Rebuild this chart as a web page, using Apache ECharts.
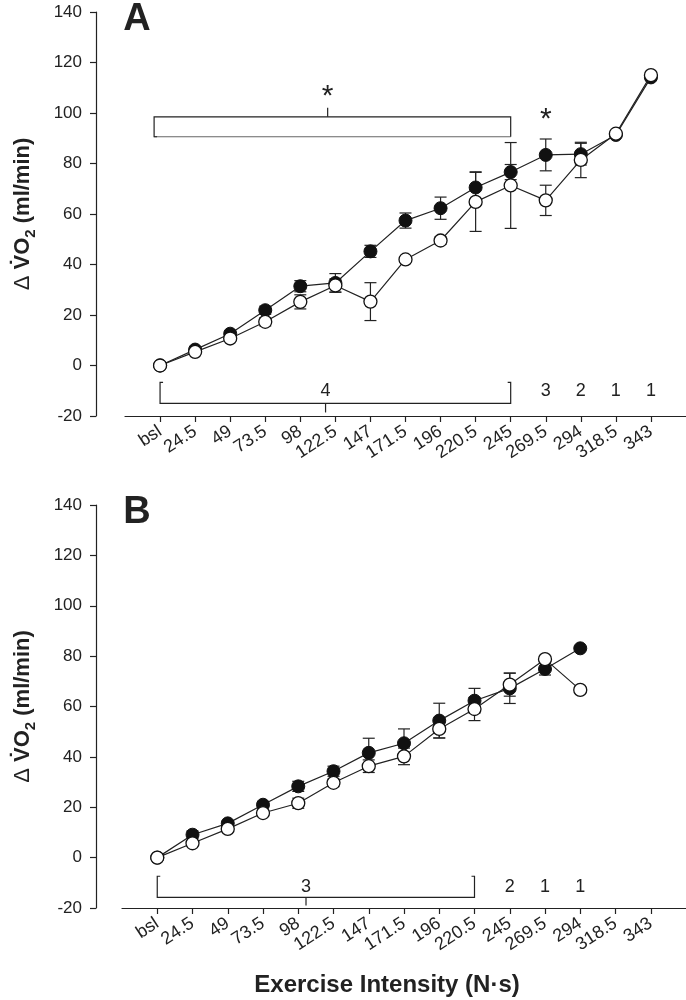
<!DOCTYPE html>
<html>
<head>
<meta charset="utf-8">
<script src="https://cdn.jsdelivr.net/npm/echarts@6/dist/echarts.min.js"></script>
<style>
html,body{margin:0;padding:0;background:#fff;}
#chart{width:686px;height:1000px;}
</style>
</head>
<body>
<div id="chart"></div>
<script>
// ---------- data ----------
const xLabels = ['bsl','24.5','49','73.5','98','122.5','147','171.5','196','220.5','245','269.5','294','318.5','343'];
const yMin = -20, yMax = 140, yStep = 20;

// Panel A
const aFilled    = [0, 6.3, 12.6, 21.9, 31.4, 32.7, 45.2, 57.4, 62.3, 70.5, 76.6, 83.4, 83.7, 91.3, 114.1];
const aFilledErr = [0, 0.8, 1.0, 1.6, 2.2, 3.7, 2.4, 3.0, 4.4, 6.2, 3.0, 6.3, 4.3, 0, 0];
const aOpen      = [0, 5.4, 10.7, 17.3, 25.2, 31.7, 25.3, 42.0, 49.5, 64.8, 71.3, 65.4, 81.4, 91.8, 115.0];
const aOpenErr   = [0, 0.8, 1.0, 1.6, 2.8, 2.6, 7.5, 1.0, 1.5, 11.7, 17.0, 6.0, 7.0, 0, 0];

// Panel B
const bFilled    = [0, 9.1, 13.6, 21.0, 28.3, 34.3, 41.6, 45.4, 54.4, 62.3, 67.2, 74.9, 83.1];
const bFilledErr = [0, 1.5, 1.0, 1.2, 2.0, 2.0, 5.8, 5.7, 6.9, 4.9, 6.0, 2.4, 0];
const bOpen      = [0, 5.7, 11.4, 17.7, 21.6, 29.7, 36.3, 40.2, 51.1, 59.0, 68.7, 78.8, 66.6];
const bOpenErr   = [0, 0.8, 0.8, 0.8, 2.0, 1.5, 2.5, 3.3, 3.6, 4.6, 4.6, 0.8, 0];

// Annotations (category index positions, y values)
const aNLabels = ['4', '3', '2', '1', '1'];
const aNPos    = [5.72, 12, 13, 14, 15];
const aNY      = -10;
const aBracket = [1, 11, -6.7, -15.0];        // from, to, top, bottom
const aBracketTick = [5.72, -15.0, -18.6];
const aRect    = [0.83, 11, 90.6, 98.5];      // from, to, bottom, top
const aRectTick = [5.78, 98.5, 102.1];
const aStars   = [[5.78, 106.5], [12, 97.5]];

const bNLabels = ['3', '2', '1', '1'];
const bNPos    = [5.22, 11, 12, 13];
const bNY      = -11.5;
const bBracket = [1, 10, -7.4, -15.8];
const bBracketTick = [5.22, -15.8, -19.0];

// ---------- helpers ----------
const FONT = 'Liberation Sans, Arial, Helvetica, sans-serif';
const INK = '#222';
const catData = [''].concat(xLabels).concat(['']);
const nCat = catData.length;

function toPts(vals) { return vals.map((v, i) => [i + 1, v]); }
function toErr(vals, errs) { return vals.map((v, i) => [i + 1, v, errs[i]]); }

function P(api, x, y) {
  const lo = Math.floor(x);
  const p0 = api.coord([lo, y]);
  const p1 = api.coord([lo + 1, y]);
  return [p0[0] + (x - lo) * (p1[0] - p0[0]), p0[1]];
}

function errRender(params, api) {
  const x = api.value(0), v = api.value(1), e = api.value(2);
  if (!e) return null;
  const t = api.coord([x, v + e]), b = api.coord([x, v - e]);
  const w = 6;
  const st = { stroke: INK, lineWidth: 1.2, fill: null };
  return { type: 'group', children: [
    { type: 'line', shape: { x1: t[0], y1: t[1], x2: b[0], y2: b[1] }, style: st },
    { type: 'line', shape: { x1: t[0] - w, y1: t[1], x2: t[0] + w, y2: t[1] }, style: st },
    { type: 'line', shape: { x1: b[0] - w, y1: b[1], x2: b[0] + w, y2: b[1] }, style: st }
  ]};
}

function annotRender(cfg) {
  return function (params, api) {
    const ch = [];
    const poly = (pts, color) => ch.push({ type: 'polyline', shape: { points: pts },
      style: { stroke: color || INK, lineWidth: 1.2, fill: null } });
    const txt = (s, p, size) => ch.push({ type: 'text', x: p[0], y: p[1],
      style: { text: s, align: 'center', verticalAlign: 'middle', fontSize: size, fontFamily: FONT, fill: INK } });
    const br = cfg.bracket;
    const a = P(api, br[0], br[2]), b = P(api, br[0], br[3]), c = P(api, br[1], br[3]), d = P(api, br[1], br[2]);
    poly([[a[0] + 3, a[1]], a, b, c, d, [d[0] - 3, d[1]]]);
    const bt = cfg.bracketTick;
    poly([P(api, bt[0], bt[1]), P(api, bt[0], bt[2])]);
    cfg.nPos.forEach((x, i) => txt(cfg.nLabels[i], P(api, x, cfg.nY), 18));
    if (cfg.rect) {
      const r = cfg.rect;
      const tl = P(api, r[0], r[3]), tr = P(api, r[1], r[3]), bl = P(api, r[0], r[2]), brr = P(api, r[1], r[2]);
      poly([bl, brr], '#666');
      poly([[bl[0] + 3, bl[1]], bl, tl, tr, brr]);
      const rt = cfg.rectTick;
      poly([P(api, rt[0], rt[1]), P(api, rt[0], rt[2])]);
      cfg.stars.forEach(s => txt('*', P(api, s[0], s[1]), 30));
    }
    return { type: 'group', children: ch };
  };
}

function xAxisCfg(gi) {
  return {
    type: 'category', gridIndex: gi, data: catData, boundaryGap: false,
    axisLine: { show: true, onZero: false, lineStyle: { color: INK, width: 1.2 } },
    axisTick: { show: true, length: 6, interval: (i) => i > 0 && i < nCat - 1, lineStyle: { color: INK, width: 1.2 } },
    axisLabel: { interval: 0, rotate: 33, fontSize: 18, color: INK, fontFamily: FONT, margin: 14 },
    splitLine: { show: false }
  };
}
function yAxisCfg(gi, off) {
  return {
    type: 'value', gridIndex: gi, min: yMin, max: yMax, interval: yStep, offset: off,
    axisLine: { show: true, lineStyle: { color: INK, width: 1.2 } },
    axisTick: { show: true, length: 6, lineStyle: { color: INK, width: 1.2 } },
    axisLabel: { fontSize: 17, color: INK, fontFamily: FONT, margin: 14 },
    splitLine: { show: false },
    name: '{d|\u0394 }{n|V\u0307O}{s|2}{n| (ml/min)}',
    nameLocation: 'middle', nameRotate: 90, nameGap: 58,
    nameTextStyle: { rich: {
      d: { fontSize: 22, fontWeight: 'normal', color: INK, fontFamily: FONT, lineHeight: 30 },
      n: { fontSize: 22, fontWeight: 'bold', color: INK, fontFamily: FONT, lineHeight: 30 },
      s: { fontSize: 15, fontWeight: 'bold', color: INK, fontFamily: FONT, lineHeight: 16, verticalAlign: 'bottom' }
    } }
  };
}
function lineSeries(gi, data, filled) {
  return {
    type: 'line', xAxisIndex: gi, yAxisIndex: gi, data: data,
    symbol: 'circle', symbolSize: 13, z: filled ? 3 : 4,
    lineStyle: { color: INK, width: 1.2 },
    itemStyle: filled ? { color: '#111', borderColor: '#111', borderWidth: 1 }
                      : { color: '#fff', borderColor: '#111', borderWidth: 1.3 },
    emphasis: { disabled: true }, animation: false
  };
}
function errSeries(gi, data) {
  return { type: 'custom', xAxisIndex: gi, yAxisIndex: gi, data: data, renderItem: errRender, z: 2, animation: false, silent: true };
}

const chart = echarts.init(document.getElementById('chart'), null, { renderer: 'canvas' });
chart.setOption({
  animation: false,
  backgroundColor: '#fff',
  grid: [
    { left: 125, right: 0, top: 12, height: 404, outerBoundsMode: 'none', containLabel: false },
    { left: 122, right: 0, top: 505, height: 403, outerBoundsMode: 'none', containLabel: false }
  ],
  xAxis: [xAxisCfg(0), xAxisCfg(1)],
  yAxis: [yAxisCfg(0, 29), yAxisCfg(1, 26)],
  graphic: [
    { type: 'text', x: 137, y: 20, style: { text: 'A', align: 'center', verticalAlign: 'middle', fontSize: 38, fontWeight: 'bold', fontFamily: FONT, fill: INK } },
    { type: 'text', x: 137, y: 513, style: { text: 'B', align: 'center', verticalAlign: 'middle', fontSize: 38, fontWeight: 'bold', fontFamily: FONT, fill: INK } },
    { type: 'text', x: 387, y: 985, style: { text: 'Exercise Intensity (N\u00b7s)', align: 'center', verticalAlign: 'middle', fontSize: 24, fontWeight: 'bold', fontFamily: FONT, fill: INK } }
  ],
  series: [
    errSeries(0, toErr(aFilled, aFilledErr)),
    errSeries(0, toErr(aOpen, aOpenErr)),
    lineSeries(0, toPts(aFilled), true),
    lineSeries(0, toPts(aOpen), false),
    { type: 'custom', xAxisIndex: 0, yAxisIndex: 0, data: [[0, 0]], z: 1, silent: true, animation: false,
      renderItem: annotRender({ bracket: aBracket, bracketTick: aBracketTick, nPos: aNPos, nLabels: aNLabels, nY: aNY,
        rect: aRect, rectTick: aRectTick, stars: aStars }) },
    errSeries(1, toErr(bFilled, bFilledErr)),
    errSeries(1, toErr(bOpen, bOpenErr)),
    lineSeries(1, toPts(bFilled), true),
    lineSeries(1, toPts(bOpen), false),
    { type: 'custom', xAxisIndex: 1, yAxisIndex: 1, data: [[0, 0]], z: 1, silent: true, animation: false,
      renderItem: annotRender({ bracket: bBracket, bracketTick: bBracketTick, nPos: bNPos, nLabels: bNLabels, nY: bNY }) }
  ]
});
</script>
</body>
</html>
